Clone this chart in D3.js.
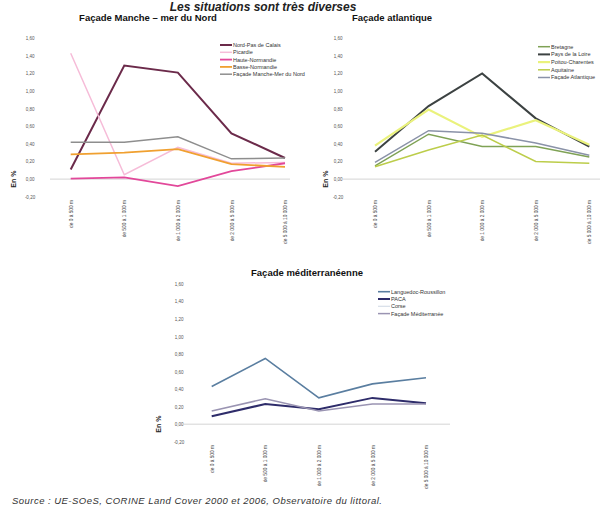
<!DOCTYPE html>
<html>
<head>
<meta charset="utf-8">
<script src="https://cdn.jsdelivr.net/npm/d3@7"></script>
<style>
  body { margin: 0; background: #ffffff; }
  svg { display: block; font-family: "Liberation Sans", Arial, sans-serif; }
</style>
</head>
<body>
<svg id="chart" width="608" height="513"></svg>
<script>
// Distance bands from the shoreline (x categories)
const distances = ["de 0 à 500 m", "de 500 à 1 000 m", "de 1 000 à 2 000 m", "de 2 000 à 5 000 m", "de 5 000 à 10 000 m"];
const yTicks = [-0.2, 0, 0.2, 0.4, 0.6, 0.8, 1.0, 1.2, 1.4, 1.6];

// Façade Manche – mer du Nord (en %)
const mancheNames = ["Nord-Pas de Calais", "Picardie", "Haute-Normandie", "Basse-Normandie", "Façade Manche-Mer du Nord"];
const nordPasDeCalais = [0.11, 1.29, 1.21, 0.52, 0.24];
const picardie = [1.43, 0.05, 0.36, 0.18, 0.19];
const hauteNormandie = [0.005, 0.02, -0.08, 0.09, 0.18];
const basseNormandie = [0.28, 0.30, 0.34, 0.17, 0.14];
const facadeManche = [0.42, 0.42, 0.48, 0.23, 0.24];

// Façade atlantique (en %)
const atlantiqueNames = ["Bretagne", "Pays de la Loire", "Poitou-Charentes", "Aquitaine", "Façade Atlantique"];
const bretagne = [0.15, 0.51, 0.37, 0.37, 0.25];
const paysDeLaLoire = [0.31, 0.83, 1.20, 0.69, 0.37];
const poitouCharentes = [0.38, 0.79, 0.48, 0.67, 0.39];
const aquitaine = [0.14, 0.33, 0.50, 0.20, 0.18];
const facadeAtlantique = [0.19, 0.55, 0.52, 0.41, 0.27];

// Façade méditerranéenne (en %)
const medNames = ["Languedoc-Roussillon", "PACA", "Corse", "Façade Méditerranée"];
const languedoc = [0.43, 0.75, 0.30, 0.46, 0.53];
const paca = [0.09, 0.23, 0.17, 0.30, 0.24];
const corse = null; // listed in the legend only
const facadeMed = [0.15, 0.29, 0.15, 0.23, 0.23];

const svg = d3.select("#chart");
const fmt = v => d3.format(".2f")(v).replace(".", ",").replace("−", "-");

function panel(cfg) {
  const g = svg.append("g");
  const x = d3.scalePoint().domain(distances).range([cfg.x0, cfg.x1]);
  const y = d3.scaleLinear().domain([-0.2, 1.6]).range([cfg.yBottom, cfg.yTop]);

  // panel title
  g.append("text").attr("x", cfg.titleX).attr("y", cfg.titleY)
    .attr("text-anchor", "middle").attr("font-weight", "bold").attr("font-size", 9.5)
    .attr("fill", "#111").text(cfg.title);

  // y axis tick labels
  const yAxis = d3.axisLeft(y).tickValues(yTicks).tickFormat(fmt).tickSize(0).tickPadding(0);
  const ya = g.append("g").attr("transform", `translate(${cfg.yLabelX},0)`).call(yAxis);
  ya.select(".domain").remove();
  ya.selectAll("text").attr("font-size", 4.5).attr("fill", "#555").attr("text-anchor", "middle");

  // zero line
  g.append("line").attr("x1", cfg.lineX0).attr("x2", cfg.lineX1)
    .attr("y1", y(0)).attr("y2", y(0)).attr("stroke", "#d4d4d4").attr("stroke-width", 1);

  // axis title
  g.append("text").attr("transform", `translate(${cfg.yTitleX},${y(0)}) rotate(-90)`)
    .attr("text-anchor", "middle").attr("font-weight", "bold").attr("font-size", 7)
    .attr("fill", "#222").text("En %");

  // x category labels (rotated)
  const xAxis = d3.axisBottom(x).tickSize(0).tickPadding(0);
  const xa = g.append("g").attr("transform", `translate(0,${cfg.xLabelY})`).call(xAxis);
  xa.select(".domain").remove();
  xa.selectAll("text").attr("font-size", 4.8).attr("fill", "#444")
    .attr("text-anchor", "end").attr("dy", "0.35em")
    .attr("transform", "rotate(-90)").attr("x", 0).attr("y", 0);

  // series lines
  const line = d3.line().x((d, i) => x(distances[i])).y(d => y(d));
  cfg.series.forEach(s => {
    if (!s.values) return;
    g.append("path").datum(s.values).attr("d", line)
      .attr("fill", "none").attr("stroke", s.color).attr("stroke-width", s.width)
      .attr("stroke-linejoin", "miter");
  });

  // legend
  cfg.series.forEach((s, i) => {
    const ly = cfg.legY + i * cfg.legStep;
    g.append("line").attr("x1", cfg.legX).attr("x2", cfg.legX + 12)
      .attr("y1", ly).attr("y2", ly).attr("stroke", s.color).attr("stroke-width", s.width);
    g.append("text").attr("x", cfg.legX + 13).attr("y", ly).attr("dy", "0.35em")
      .attr("font-size", 5.5).attr("fill", "#333").text(s.name);
  });
}

// page title
svg.append("text").attr("x", 263).attr("y", 11).attr("text-anchor", "middle")
  .attr("font-style", "italic").attr("font-weight", "bold").attr("font-size", 12)
  .attr("fill", "#222").text("Les situations sont très diverses");

panel({
  title: "Façade Manche – mer du Nord", titleX: 148, titleY: 21,
  x0: 70.7, x1: 285, yTop: 38.3, yBottom: 196.7,
  yLabelX: 30, yTitleX: 16, lineX0: 50, lineX1: 290, xLabelY: 200,
  legX: 220, legY: 45, legStep: 7.3,
  series: [
    { name: mancheNames[0], values: nordPasDeCalais, color: "#6b2a4a", width: 2 },
    { name: mancheNames[1], values: picardie, color: "#f6bcd8", width: 1.5 },
    { name: mancheNames[2], values: hauteNormandie, color: "#e2489a", width: 1.8 },
    { name: mancheNames[3], values: basseNormandie, color: "#f0a030", width: 1.8 },
    { name: mancheNames[4], values: facadeManche, color: "#8e8e8e", width: 1.5 }
  ]
});

panel({
  title: "Façade atlantique", titleX: 392, titleY: 21,
  x0: 375, x1: 589.3, yTop: 38.3, yBottom: 196.7,
  yLabelX: 338, yTitleX: 328, lineX0: 343, lineX1: 600, xLabelY: 200,
  legX: 538, legY: 46.7, legStep: 7.7,
  series: [
    { name: atlantiqueNames[0], values: bretagne, color: "#7fa255", width: 1.5 },
    { name: atlantiqueNames[1], values: paysDeLaLoire, color: "#3c4242", width: 2 },
    { name: atlantiqueNames[2], values: poitouCharentes, color: "#eaf27c", width: 2.2 },
    { name: atlantiqueNames[3], values: aquitaine, color: "#bccd4a", width: 1.5 },
    { name: atlantiqueNames[4], values: facadeAtlantique, color: "#8a92a8", width: 1.5 }
  ]
});

panel({
  title: "Façade méditerranéenne", titleX: 307, titleY: 276,
  x0: 211.7, x1: 426, yTop: 284, yBottom: 441.7,
  yLabelX: 179, yTitleX: 161, lineX0: 183, lineX1: 450, xLabelY: 445,
  legX: 378, legY: 291.7, legStep: 7.3,
  series: [
    { name: medNames[0], values: languedoc, color: "#5a7ea0", width: 1.6 },
    { name: medNames[1], values: paca, color: "#2e2c6a", width: 2 },
    { name: medNames[2], values: corse, color: "#d6dee8", width: 1.2 },
    { name: medNames[3], values: facadeMed, color: "#9a94b2", width: 1.5 }
  ]
});

// source note
svg.append("text").attr("x", 12).attr("y", 504)
  .attr("font-style", "italic").attr("font-size", 9.5).attr("fill", "#333")
  .attr("textLength", 370).attr("lengthAdjust", "spacing")
  .text("Source : UE-SOeS, CORINE Land Cover 2000 et 2006, Observatoire du littoral.");
</script>
</body>
</html>
